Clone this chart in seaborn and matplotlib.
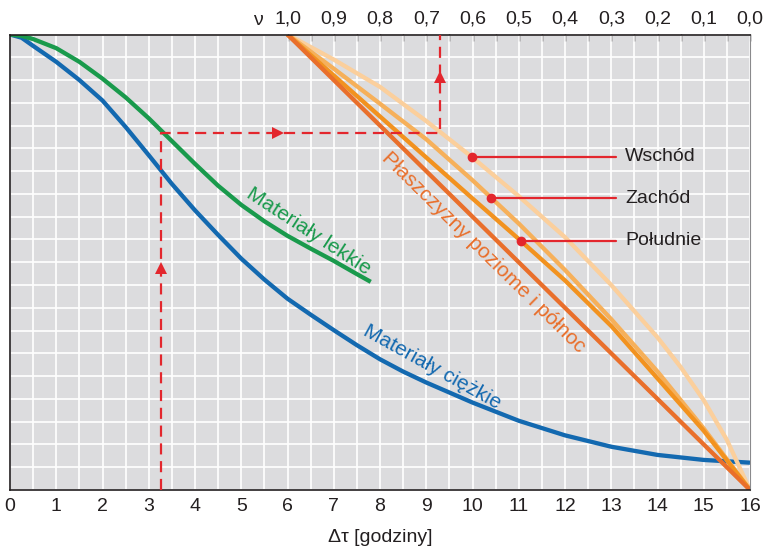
import numpy as np
import seaborn as sns
from matplotlib import pyplot as plt
import matplotlib.transforms as mtransforms

# heavy materials (blue) and light materials (green), hours -> factor
hours_heavy = [0, 0.25, 0.5, 1, 1.5, 2, 2.5, 3, 3.5, 4, 4.5, 5, 5.5, 6, 6.5, 7, 7.5, 8, 8.5, 9,
               10, 11, 12, 13, 14, 15, 16]
heavy = [1.0, 0.993, 0.975, 0.94, 0.9, 0.855, 0.797, 0.735, 0.672, 0.614, 0.56, 0.508, 0.462,
         0.42, 0.385, 0.351, 0.318, 0.287, 0.26, 0.236, 0.192, 0.152, 0.12, 0.095, 0.077, 0.066, 0.06]
hours_light = [0, 0.25, 0.5, 1, 1.5, 2, 2.5, 3, 3.5, 4, 4.5, 5, 5.5, 6, 6.5, 7, 7.5, 7.8]
light = [1.0, 0.997, 0.99, 0.97, 0.94, 0.903, 0.862, 0.816, 0.766, 0.716, 0.668, 0.626, 0.59,
         0.558, 0.53, 0.503, 0.474, 0.457]

# orientation curves, drawn against the nu scale (nu = 1 at 6 h, 0 at 16 h)
hours_nu = [6, 7, 8, 9, 10, 11, 12, 13, 14, 15, 16]
nu_labels = ['1,0', '0,9', '0,8', '0,7', '0,6', '0,5', '0,4', '0,3', '0,2', '0,1', '0,0']
north = [1.0, 0.9, 0.8, 0.7, 0.6, 0.5, 0.4, 0.3, 0.2, 0.1, 0.0]
south = [1.0, 0.91, 0.82, 0.73, 0.64, 0.551, 0.46, 0.36, 0.245, 0.13, 0.0]
west = [1.0, 0.925, 0.848, 0.77, 0.68, 0.585, 0.483, 0.375, 0.26, 0.135, 0.0]
hours_east = [6, 7, 8, 9, 10, 11, 12, 13, 14, 14.5, 15, 15.5, 16]
east = [1.0, 0.945, 0.885, 0.81, 0.73, 0.645, 0.555, 0.45, 0.335, 0.27, 0.197, 0.11, 0.0]

callout_names = ['Wschód', 'Zachód', 'Południe']
callout_x = [9.98, 10.41, 11.05]
callout_y = [0.732, 0.640, 0.547]
callout_end = 13.1

# reading example (red dashed path)
example_x = [3.27, 3.27, 9.3, 9.3]
example_y = [0.0, 0.784, 0.784, 1.0]
arrow_x = [3.27, 5.79, 9.3]
arrow_y = [0.487, 0.784, 0.907]
arrow_marker = ['^', '>', '^']

sns.set_theme(style='white')
plt.rcParams['font.family'] = ['Liberation Sans', 'DejaVu Sans']

ink = '#231f20'
red = '#e3262d'

fig = plt.figure(figsize=(7.72, 5.53), dpi=100)
ax = fig.add_axes([10 / 772, 63 / 553, 740 / 772, 455.5 / 553])
ax.set_facecolor('#dcdcde')
ax.set_xlim(0, 16)
ax.set_ylim(0, 1)

ax.set_xticks(np.arange(0, 17, 1))
ax.set_xticks(np.arange(0.5, 16, 1), minor=True)
ax.set_yticks(np.arange(0, 1.001, 0.05))
ax.set_yticklabels([])
ax.grid(True, which='both', color='white', linewidth=1.2)
ax.set_axisbelow(True)
ax.tick_params(axis='x', which='major', direction='in', length=6, width=1, color=ink,
               labelsize=14, labelcolor=ink, pad=6)
ax.tick_params(axis='x', which='minor', direction='in', length=3.5, width=1, color=ink)
ax.tick_params(axis='y', length=0)
for side in ['left', 'top', 'bottom']:
    ax.spines[side].set_color(ink)
    ax.spines[side].set_linewidth(1.2)
ax.spines['right'].set_color('#8a8a8c')
ax.spines['right'].set_linewidth(0.8)

ax.set_xlabel('Δτ [godziny]', fontsize=14, color=ink, labelpad=10)

# curves
style = dict(linewidth=3.1, solid_joinstyle='round', solid_capstyle='butt')
sns.lineplot(x=hours_heavy, y=heavy, ax=ax, color='#1369b0', **style)
sns.lineplot(x=hours_light, y=light, ax=ax, color='#199a4c', **style)
sns.lineplot(x=hours_east, y=east, ax=ax, color='#fbcf9c', **style)
sns.lineplot(x=hours_nu, y=west, ax=ax, color='#f6b05a', **style)
sns.lineplot(x=hours_nu, y=south, ax=ax, color='#f2921f', **style)
sns.lineplot(x=hours_nu, y=north, ax=ax, color='#e96f2b', **style)

# reading example
ax.plot(example_x, example_y, color=red, linewidth=1.6, dashes=(5, 3), zorder=5)
for xa, ya, m in zip(arrow_x, arrow_y, arrow_marker):
    ax.plot(xa, ya, marker=m, markersize=9, color=red, markeredgewidth=0, zorder=6)

# callouts
for name, xc, yc in zip(callout_names, callout_x, callout_y):
    ax.plot([xc, callout_end], [yc, yc], color=red, linewidth=1.6, zorder=6)
    ax.plot(xc, yc, marker='o', markersize=7, color=red, markeredgewidth=0, zorder=7)
    ax.text(callout_end + 0.2, yc, name, fontsize=14, color=ink, va='center', ha='left')

ax.text(6.46, 0.569, 'Materiały lekkie', fontsize=15, color='#199a4c', rotation=-33,
        rotation_mode='anchor', ha='center', va='center')
ax.text(9.13, 0.27, 'Materiały ciężkie', fontsize=15, color='#1369b0', rotation=-29,
        rotation_mode='anchor', ha='center', va='center')
ax.text(10.23, 0.522, 'Płaszczyzny poziome i północ', fontsize=15, color='#e96f2b', rotation=-44.5,
        rotation_mode='anchor', ha='center', va='center')

# top nu scale
top = ax.secondary_xaxis('top')
top.set_xticks(hours_nu)
top.set_xticklabels(nu_labels)
top.set_xticks(np.arange(6.5, 16, 1), minor=True)
top.tick_params(axis='x', which='both', direction='in', length=5, width=1, color=ink,
                labelsize=14, labelcolor=ink, pad=5)
top.spines['top'].set_visible(False)
trans = mtransforms.blended_transform_factory(ax.transData, ax.transAxes)
ax.text(5.36, 1.012, 'ν', transform=trans, fontsize=14, color=ink, ha='center', va='bottom')

fig.savefig('out.png', dpi=100)
